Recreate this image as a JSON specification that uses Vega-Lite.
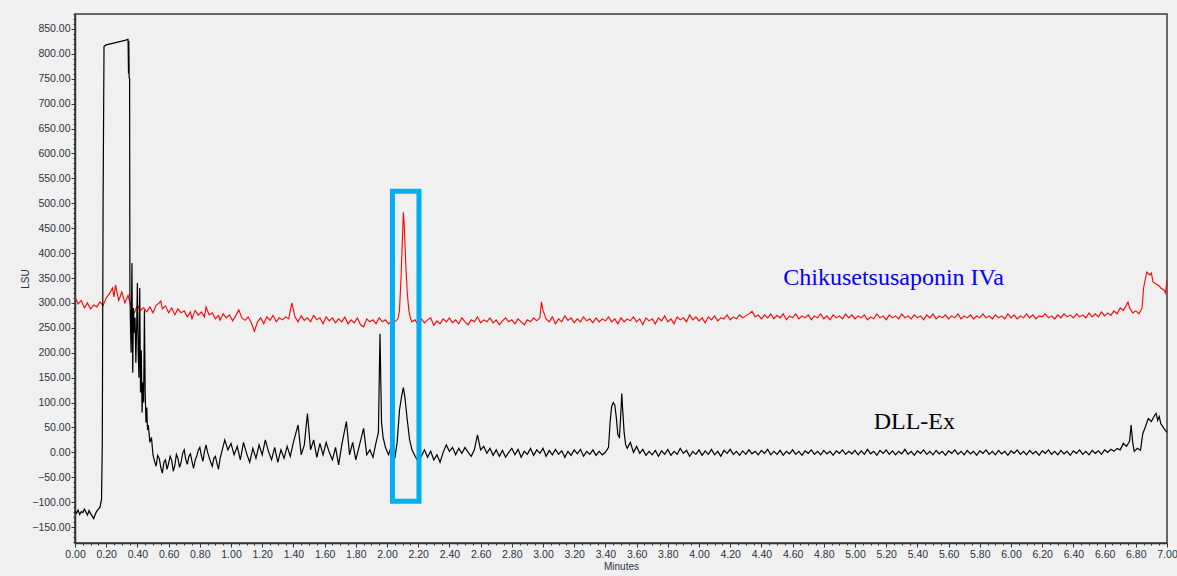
{
  "$schema": "https://vega.github.io/schema/vega-lite/v6.json",
  "width": 1092,
  "height": 529,
  "autosize": {"type": "none"},
  "padding": {"left": 75, "top": 14, "right": 10, "bottom": 33},
  "background": "#f0f0f0",
  "config": {
    "view": {"stroke": "#3a3a3a", "strokeWidth": 1.5, "fill": "#f0f0f0"},
    "axis": {"labelFont": "Liberation Sans", "labelFontSize": 10.5, "labelColor": "#2a3340", "titleFont": "Liberation Sans", "titleFontSize": 10, "titleFontWeight": "normal", "titleColor": "#2a3340", "domainColor": "#333333", "domainWidth": 1.5, "tickColor": "#333333", "grid": false, "labelOverlap": false, "labelFlush": false}
  },
  "datasets": {
    "red": [
      {"t":0.00,"v":312},{"t":0.02,"v":298},{"t":0.04,"v":305},{"t":0.06,"v":290},{"t":0.08,"v":300},{"t":0.10,"v":288},{"t":0.12,"v":296},{"t":0.14,"v":292},{"t":0.16,"v":302},{"t":0.18,"v":295},
      {"t":0.20,"v":310},{"t":0.22,"v":318},{"t":0.24,"v":330},{"t":0.25,"v":312},{"t":0.26,"v":336},{"t":0.28,"v":305},{"t":0.30,"v":322},{"t":0.32,"v":300},{"t":0.34,"v":315},{"t":0.36,"v":292},
      {"t":0.38,"v":280},{"t":0.40,"v":295},{"t":0.42,"v":285},{"t":0.44,"v":290},{"t":0.46,"v":282},{"t":0.48,"v":292},{"t":0.50,"v":280},{"t":0.52,"v":295},{"t":0.54,"v":300},{"t":0.55,"v":304},
      {"t":0.56,"v":288},{"t":0.58,"v":294},{"t":0.60,"v":280},{"t":0.62,"v":290},{"t":0.64,"v":276},{"t":0.66,"v":288},{"t":0.68,"v":280},{"t":0.70,"v":284},{"t":0.72,"v":272},{"t":0.74,"v":282},
      {"t":0.75,"v":268},{"t":0.77,"v":285},{"t":0.79,"v":275},{"t":0.81,"v":282},{"t":0.83,"v":272},{"t":0.84,"v":292},{"t":0.86,"v":276},{"t":0.88,"v":280},{"t":0.90,"v":268},{"t":0.92,"v":275},
      {"t":0.93,"v":265},{"t":0.95,"v":278},{"t":0.97,"v":270},{"t":0.99,"v":276},{"t":1.01,"v":264},{"t":1.03,"v":274},{"t":1.05,"v":286},{"t":1.07,"v":270},{"t":1.09,"v":265},{"t":1.11,"v":272},
      {"t":1.13,"v":260},{"t":1.15,"v":243},{"t":1.17,"v":262},{"t":1.19,"v":270},{"t":1.21,"v":258},{"t":1.23,"v":272},{"t":1.25,"v":265},{"t":1.27,"v":275},{"t":1.29,"v":262},{"t":1.31,"v":270},
      {"t":1.33,"v":266},{"t":1.35,"v":272},{"t":1.37,"v":268},{"t":1.39,"v":300},{"t":1.41,"v":272},{"t":1.43,"v":262},{"t":1.45,"v":274},{"t":1.47,"v":265},{"t":1.49,"v":270},{"t":1.51,"v":262},
      {"t":1.53,"v":275},{"t":1.55,"v":266},{"t":1.57,"v":270},{"t":1.59,"v":258},{"t":1.61,"v":272},{"t":1.63,"v":264},{"t":1.65,"v":270},{"t":1.67,"v":260},{"t":1.69,"v":268},{"t":1.71,"v":262},
      {"t":1.73,"v":272},{"t":1.75,"v":258},{"t":1.77,"v":266},{"t":1.79,"v":260},{"t":1.81,"v":270},{"t":1.83,"v":256},{"t":1.85,"v":252},{"t":1.87,"v":268},{"t":1.89,"v":262},{"t":1.91,"v":266},
      {"t":1.93,"v":258},{"t":1.95,"v":270},{"t":1.97,"v":262},{"t":1.99,"v":266},{"t":2.01,"v":258},{"t":2.03,"v":264},{"t":2.05,"v":262},{"t":2.07,"v":268},{"t":2.08,"v":285},{"t":2.09,"v":350},
      {"t":2.10,"v":440},{"t":2.105,"v":482},{"t":2.11,"v":460},{"t":2.12,"v":380},{"t":2.13,"v":320},{"t":2.14,"v":285},{"t":2.15,"v":270},{"t":2.16,"v":262},{"t":2.18,"v":266},{"t":2.20,"v":256},
      {"t":2.22,"v":268},{"t":2.24,"v":260},{"t":2.26,"v":266},{"t":2.28,"v":270},{"t":2.30,"v":255},{"t":2.32,"v":264},{"t":2.34,"v":258},{"t":2.36,"v":268},{"t":2.38,"v":262},{"t":2.40,"v":270},
      {"t":2.42,"v":260},{"t":2.44,"v":266},{"t":2.46,"v":258},{"t":2.48,"v":270},{"t":2.50,"v":262},{"t":2.52,"v":256},{"t":2.54,"v":266},{"t":2.56,"v":262},{"t":2.58,"v":272},{"t":2.60,"v":260},
      {"t":2.62,"v":266},{"t":2.64,"v":262},{"t":2.66,"v":270},{"t":2.68,"v":260},{"t":2.70,"v":266},{"t":2.72,"v":256},{"t":2.74,"v":264},{"t":2.76,"v":270},{"t":2.78,"v":262},{"t":2.80,"v":266},
      {"t":2.82,"v":258},{"t":2.84,"v":268},{"t":2.86,"v":262},{"t":2.88,"v":256},{"t":2.90,"v":266},{"t":2.92,"v":262},{"t":2.94,"v":270},{"t":2.96,"v":264},{"t":2.98,"v":270},{"t":2.99,"v":302},
      {"t":3.00,"v":285},{"t":3.02,"v":268},{"t":3.04,"v":262},{"t":3.06,"v":272},{"t":3.08,"v":258},{"t":3.10,"v":268},{"t":3.12,"v":262},{"t":3.14,"v":274},{"t":3.16,"v":265},{"t":3.18,"v":270},
      {"t":3.20,"v":260},{"t":3.22,"v":268},{"t":3.24,"v":262},{"t":3.26,"v":272},{"t":3.28,"v":264},{"t":3.30,"v":268},{"t":3.32,"v":260},{"t":3.34,"v":270},{"t":3.36,"v":262},{"t":3.38,"v":268},
      {"t":3.40,"v":264},{"t":3.42,"v":272},{"t":3.44,"v":262},{"t":3.46,"v":268},{"t":3.48,"v":258},{"t":3.50,"v":270},{"t":3.52,"v":262},{"t":3.54,"v":268},{"t":3.56,"v":264},{"t":3.58,"v":272},
      {"t":3.60,"v":262},{"t":3.62,"v":268},{"t":3.64,"v":256},{"t":3.66,"v":270},{"t":3.68,"v":264},{"t":3.70,"v":268},{"t":3.72,"v":258},{"t":3.74,"v":270},{"t":3.76,"v":264},{"t":3.78,"v":274},
      {"t":3.80,"v":262},{"t":3.82,"v":268},{"t":3.84,"v":258},{"t":3.86,"v":272},{"t":3.88,"v":266},{"t":3.90,"v":270},{"t":3.92,"v":262},{"t":3.94,"v":276},{"t":3.96,"v":266},{"t":3.98,"v":272},
      {"t":4.00,"v":264},{"t":4.02,"v":270},{"t":4.04,"v":260},{"t":4.06,"v":272},{"t":4.08,"v":266},{"t":4.10,"v":274},{"t":4.12,"v":264},{"t":4.14,"v":270},{"t":4.16,"v":268},{"t":4.18,"v":276},
      {"t":4.20,"v":266},{"t":4.22,"v":272},{"t":4.24,"v":268},{"t":4.26,"v":276},{"t":4.28,"v":270},{"t":4.30,"v":274},{"t":4.32,"v":278},{"t":4.34,"v":283},{"t":4.36,"v":272},{"t":4.38,"v":276},
      {"t":4.40,"v":268},{"t":4.42,"v":276},{"t":4.44,"v":270},{"t":4.46,"v":278},{"t":4.48,"v":268},{"t":4.50,"v":275},{"t":4.52,"v":270},{"t":4.54,"v":278},{"t":4.56,"v":266},{"t":4.58,"v":274},
      {"t":4.60,"v":270},{"t":4.62,"v":278},{"t":4.64,"v":268},{"t":4.66,"v":274},{"t":4.68,"v":270},{"t":4.70,"v":276},{"t":4.72,"v":266},{"t":4.74,"v":274},{"t":4.76,"v":270},{"t":4.78,"v":278},
      {"t":4.80,"v":268},{"t":4.82,"v":274},{"t":4.84,"v":266},{"t":4.86,"v":276},{"t":4.88,"v":270},{"t":4.90,"v":274},{"t":4.92,"v":268},{"t":4.94,"v":278},{"t":4.96,"v":270},{"t":4.98,"v":276},
      {"t":5.00,"v":268},{"t":5.02,"v":274},{"t":5.04,"v":270},{"t":5.06,"v":276},{"t":5.08,"v":266},{"t":5.10,"v":272},{"t":5.12,"v":268},{"t":5.14,"v":278},{"t":5.16,"v":270},{"t":5.18,"v":274},
      {"t":5.20,"v":266},{"t":5.22,"v":276},{"t":5.24,"v":270},{"t":5.26,"v":274},{"t":5.28,"v":268},{"t":5.30,"v":278},{"t":5.32,"v":270},{"t":5.34,"v":274},{"t":5.36,"v":268},{"t":5.38,"v":276},
      {"t":5.40,"v":270},{"t":5.42,"v":274},{"t":5.44,"v":266},{"t":5.46,"v":276},{"t":5.48,"v":270},{"t":5.50,"v":278},{"t":5.52,"v":268},{"t":5.54,"v":274},{"t":5.56,"v":270},{"t":5.58,"v":276},
      {"t":5.60,"v":268},{"t":5.62,"v":274},{"t":5.64,"v":270},{"t":5.66,"v":278},{"t":5.68,"v":268},{"t":5.70,"v":274},{"t":5.72,"v":270},{"t":5.74,"v":276},{"t":5.76,"v":268},{"t":5.78,"v":274},
      {"t":5.80,"v":270},{"t":5.82,"v":278},{"t":5.84,"v":270},{"t":5.86,"v":274},{"t":5.88,"v":268},{"t":5.90,"v":276},{"t":5.92,"v":270},{"t":5.94,"v":274},{"t":5.96,"v":268},{"t":5.98,"v":278},
      {"t":6.00,"v":270},{"t":6.02,"v":276},{"t":6.04,"v":268},{"t":6.06,"v":274},{"t":6.08,"v":270},{"t":6.10,"v":278},{"t":6.12,"v":270},{"t":6.14,"v":276},{"t":6.16,"v":268},{"t":6.18,"v":274},
      {"t":6.20,"v":272},{"t":6.22,"v":278},{"t":6.24,"v":270},{"t":6.26,"v":274},{"t":6.28,"v":268},{"t":6.30,"v":276},{"t":6.32,"v":270},{"t":6.34,"v":278},{"t":6.36,"v":272},{"t":6.38,"v":276},
      {"t":6.40,"v":270},{"t":6.42,"v":278},{"t":6.44,"v":272},{"t":6.46,"v":276},{"t":6.48,"v":270},{"t":6.50,"v":280},{"t":6.52,"v":272},{"t":6.54,"v":278},{"t":6.56,"v":272},{"t":6.58,"v":282},
      {"t":6.60,"v":274},{"t":6.62,"v":280},{"t":6.64,"v":275},{"t":6.66,"v":284},{"t":6.68,"v":278},{"t":6.70,"v":290},{"t":6.72,"v":285},{"t":6.74,"v":296},{"t":6.75,"v":302},{"t":6.76,"v":290},
      {"t":6.78,"v":280},{"t":6.80,"v":284},{"t":6.82,"v":278},{"t":6.84,"v":290},{"t":6.85,"v":330},{"t":6.87,"v":362},{"t":6.89,"v":356},{"t":6.90,"v":360},{"t":6.91,"v":342},{"t":6.93,"v":338},
      {"t":6.95,"v":334},{"t":6.96,"v":330},{"t":6.98,"v":326},{"t":6.99,"v":320},{"t":7.00,"v":345}
    ],
    "black": [
      {"t":0.00,"v":-118},{"t":0.01,"v":-122},{"t":0.02,"v":-116},{"t":0.03,"v":-125},{"t":0.04,"v":-119},{"t":0.05,"v":-121},{"t":0.06,"v":-114},{"t":0.07,"v":-120},{"t":0.08,"v":-126},{"t":0.09,"v":-117},
      {"t":0.10,"v":-123},{"t":0.11,"v":-128},{"t":0.12,"v":-133},{"t":0.13,"v":-124},{"t":0.14,"v":-118},{"t":0.15,"v":-114},{"t":0.16,"v":-110},{"t":0.17,"v":-95},{"t":0.175,"v":20},{"t":0.18,"v":500},
      {"t":0.186,"v":815},{"t":0.20,"v":818},{"t":0.24,"v":821},{"t":0.28,"v":824},{"t":0.32,"v":827},{"t":0.34,"v":829},{"t":0.343,"v":760},{"t":0.345,"v":826},{"t":0.347,"v":752},{"t":0.350,"v":750},
      {"t":0.352,"v":320},{"t":0.356,"v":250},{"t":0.36,"v":200},{"t":0.365,"v":380},{"t":0.37,"v":160},{"t":0.375,"v":290},{"t":0.38,"v":240},{"t":0.385,"v":270},{"t":0.39,"v":180},{"t":0.395,"v":250},
      {"t":0.40,"v":340},{"t":0.405,"v":200},{"t":0.41,"v":150},{"t":0.415,"v":330},{"t":0.42,"v":120},{"t":0.425,"v":205},{"t":0.43,"v":80},{"t":0.435,"v":140},{"t":0.44,"v":100},{"t":0.445,"v":285},
      {"t":0.45,"v":120},{"t":0.455,"v":60},{"t":0.46,"v":90},{"t":0.465,"v":45},{"t":0.47,"v":55},{"t":0.48,"v":20},{"t":0.49,"v":30},{"t":0.50,"v":-5},{"t":0.51,"v":-18},{"t":0.52,"v":-28},{"t":0.53,"v":-6},{"t":0.54,"v":-12},
      {"t":0.55,"v":-30},{"t":0.56,"v":-42},{"t":0.57,"v":-20},{"t":0.58,"v":-15},{"t":0.59,"v":-34},{"t":0.60,"v":-22},{"t":0.61,"v":-8},{"t":0.62,"v":-16},{"t":0.63,"v":-38},{"t":0.64,"v":-26},{"t":0.65,"v":-4},{"t":0.66,"v":-12},{"t":0.67,"v":-30},{"t":0.68,"v":-20},{"t":0.69,"v":-2},{"t":0.70,"v":5},{"t":0.71,"v":-14},{"t":0.72,"v":-24},{"t":0.73,"v":-8},{"t":0.74,"v":-3},
      {"t":0.75,"v":-18},{"t":0.76,"v":-32},{"t":0.77,"v":-16},{"t":0.78,"v":-8},{"t":0.79,"v":4},{"t":0.80,"v":10},{"t":0.81,"v":-6},{"t":0.82,"v":-18},{"t":0.83,"v":2},{"t":0.84,"v":15},{"t":0.85,"v":0},{"t":0.86,"v":-10},{"t":0.87,"v":-20},{"t":0.88,"v":-28},{"t":0.89,"v":-12},{"t":0.90,"v":-8},{"t":0.91,"v":-22},{"t":0.92,"v":-34},{"t":0.93,"v":-12},{"t":0.94,"v":0},
      {"t":0.96,"v":25},{"t":0.98,"v":5},{"t":1.00,"v":18},{"t":1.02,"v":-5},{"t":1.04,"v":12},{"t":1.06,"v":-15},{"t":1.08,"v":20},{"t":1.10,"v":-2},{"t":1.12,"v":-20},{"t":1.14,"v":8},
      {"t":1.16,"v":-12},{"t":1.18,"v":15},{"t":1.20,"v":-5},{"t":1.22,"v":25},{"t":1.24,"v":2},{"t":1.26,"v":-15},{"t":1.28,"v":10},{"t":1.30,"v":-20},{"t":1.32,"v":5},{"t":1.34,"v":-12},
      {"t":1.36,"v":12},{"t":1.38,"v":-8},{"t":1.40,"v":20},{"t":1.43,"v":55},{"t":1.45,"v":-5},{"t":1.47,"v":15},{"t":1.49,"v":78},{"t":1.51,"v":5},{"t":1.53,"v":25},{"t":1.55,"v":-10},
      {"t":1.57,"v":18},{"t":1.59,"v":-5},{"t":1.61,"v":20},{"t":1.63,"v":0},{"t":1.65,"v":-15},{"t":1.67,"v":10},{"t":1.69,"v":-25},{"t":1.71,"v":15},{"t":1.74,"v":62},{"t":1.76,"v":-5},
      {"t":1.78,"v":20},{"t":1.80,"v":-15},{"t":1.82,"v":10},{"t":1.85,"v":48},{"t":1.87,"v":-5},{"t":1.89,"v":5},{"t":1.91,"v":-10},{"t":1.93,"v":20},{"t":1.945,"v":40},{"t":1.955,"v":238},
      {"t":1.965,"v":60},{"t":1.975,"v":30},{"t":1.99,"v":10},{"t":2.01,"v":-5},{"t":2.03,"v":15},{"t":2.05,"v":-12},{"t":2.065,"v":20},{"t":2.08,"v":85},{"t":2.095,"v":115},{"t":2.105,"v":130},
      {"t":2.115,"v":110},{"t":2.13,"v":65},{"t":2.145,"v":25},{"t":2.16,"v":5},{"t":2.18,"v":-8},{"t":2.20,"v":-18},{"t":2.22,"v":-8},{"t":2.24,"v":5},{"t":2.26,"v":-10},{"t":2.28,"v":2},
      {"t":2.30,"v":-15},{"t":2.32,"v":-5},{"t":2.34,"v":-20},{"t":2.36,"v":0},{"t":2.38,"v":15},{"t":2.40,"v":2},{"t":2.42,"v":10},{"t":2.44,"v":-5},{"t":2.46,"v":8},{"t":2.48,"v":-2},
      {"t":2.50,"v":10},{"t":2.52,"v":0},{"t":2.54,"v":-8},{"t":2.56,"v":5},{"t":2.58,"v":35},{"t":2.60,"v":5},{"t":2.62,"v":12},{"t":2.64,"v":-2},{"t":2.66,"v":8},{"t":2.68,"v":-6},
      {"t":2.70,"v":5},{"t":2.72,"v":-8},{"t":2.74,"v":4},{"t":2.76,"v":-10},{"t":2.78,"v":0},{"t":2.80,"v":8},{"t":2.82,"v":-5},{"t":2.84,"v":6},{"t":2.86,"v":-10},{"t":2.88,"v":2},
      {"t":2.90,"v":-4},{"t":2.92,"v":8},{"t":2.94,"v":-6},{"t":2.96,"v":5},{"t":2.98,"v":-2},{"t":3.00,"v":8},{"t":3.02,"v":-8},{"t":3.04,"v":4},{"t":3.06,"v":-5},{"t":3.08,"v":6},
      {"t":3.10,"v":-4},{"t":3.12,"v":3},{"t":3.14,"v":-10},{"t":3.16,"v":2},{"t":3.18,"v":-6},{"t":3.20,"v":5},{"t":3.22,"v":-3},{"t":3.24,"v":6},{"t":3.26,"v":-8},{"t":3.28,"v":2},
      {"t":3.30,"v":-4},{"t":3.32,"v":5},{"t":3.34,"v":-6},{"t":3.36,"v":2},{"t":3.38,"v":-5},{"t":3.40,"v":0},{"t":3.42,"v":10},{"t":3.43,"v":60},{"t":3.44,"v":92},{"t":3.45,"v":100},
      {"t":3.46,"v":95},{"t":3.47,"v":70},{"t":3.48,"v":35},{"t":3.49,"v":30},{"t":3.50,"v":85},{"t":3.505,"v":118},{"t":3.51,"v":90},{"t":3.52,"v":40},{"t":3.53,"v":15},{"t":3.54,"v":8},
      {"t":3.56,"v":20},{"t":3.58,"v":0},{"t":3.60,"v":12},{"t":3.62,"v":-2},{"t":3.64,"v":6},{"t":3.66,"v":-6},{"t":3.68,"v":2},{"t":3.70,"v":-5},{"t":3.72,"v":4},{"t":3.74,"v":-8},
      {"t":3.76,"v":3},{"t":3.78,"v":-4},{"t":3.80,"v":6},{"t":3.82,"v":-6},{"t":3.84,"v":2},{"t":3.86,"v":-4},{"t":3.88,"v":8},{"t":3.90,"v":-2},{"t":3.92,"v":4},{"t":3.94,"v":-8},
      {"t":3.96,"v":2},{"t":3.98,"v":-4},{"t":4.00,"v":5},{"t":4.02,"v":-6},{"t":4.04,"v":3},{"t":4.06,"v":-4},{"t":4.08,"v":6},{"t":4.10,"v":-5},{"t":4.12,"v":2},{"t":4.14,"v":-8},
      {"t":4.16,"v":4},{"t":4.18,"v":-2},{"t":4.20,"v":6},{"t":4.22,"v":-4},{"t":4.24,"v":2},{"t":4.26,"v":-6},{"t":4.28,"v":3},{"t":4.30,"v":-4},{"t":4.32,"v":5},{"t":4.34,"v":-3},
      {"t":4.36,"v":2},{"t":4.38,"v":-5},{"t":4.40,"v":4},{"t":4.42,"v":-2},{"t":4.44,"v":6},{"t":4.46,"v":-5},{"t":4.48,"v":2},{"t":4.50,"v":-4},{"t":4.52,"v":4},{"t":4.54,"v":-6},
      {"t":4.56,"v":2},{"t":4.58,"v":-3},{"t":4.60,"v":5},{"t":4.62,"v":-4},{"t":4.64,"v":2},{"t":4.66,"v":-6},{"t":4.68,"v":3},{"t":4.70,"v":-2},{"t":4.72,"v":5},{"t":4.74,"v":-4},
      {"t":4.76,"v":2},{"t":4.78,"v":-5},{"t":4.80,"v":4},{"t":4.82,"v":-3},{"t":4.84,"v":2},{"t":4.86,"v":-6},{"t":4.88,"v":3},{"t":4.90,"v":-2},{"t":4.92,"v":5},{"t":4.94,"v":-4},
      {"t":4.96,"v":2},{"t":4.98,"v":-3},{"t":5.00,"v":4},{"t":5.02,"v":-5},{"t":5.04,"v":3},{"t":5.06,"v":-4},{"t":5.08,"v":6},{"t":5.10,"v":-3},{"t":5.12,"v":2},{"t":5.14,"v":-6},
      {"t":5.16,"v":4},{"t":5.18,"v":-2},{"t":5.20,"v":5},{"t":5.22,"v":-4},{"t":5.24,"v":3},{"t":5.26,"v":-5},{"t":5.28,"v":2},{"t":5.30,"v":-3},{"t":5.32,"v":6},{"t":5.34,"v":-4},
      {"t":5.36,"v":2},{"t":5.38,"v":-6},{"t":5.40,"v":3},{"t":5.42,"v":-2},{"t":5.44,"v":5},{"t":5.46,"v":-4},{"t":5.48,"v":2},{"t":5.50,"v":-5},{"t":5.52,"v":4},{"t":5.54,"v":-3},
      {"t":5.56,"v":2},{"t":5.58,"v":-6},{"t":5.60,"v":3},{"t":5.62,"v":-2},{"t":5.64,"v":5},{"t":5.66,"v":-4},{"t":5.68,"v":2},{"t":5.70,"v":-5},{"t":5.72,"v":4},{"t":5.74,"v":-3},
      {"t":5.76,"v":2},{"t":5.78,"v":-6},{"t":5.80,"v":3},{"t":5.82,"v":-2},{"t":5.84,"v":5},{"t":5.86,"v":-4},{"t":5.88,"v":2},{"t":5.90,"v":-5},{"t":5.92,"v":4},{"t":5.94,"v":-3},
      {"t":5.96,"v":2},{"t":5.98,"v":-6},{"t":6.00,"v":3},{"t":6.02,"v":-2},{"t":6.04,"v":5},{"t":6.06,"v":-4},{"t":6.08,"v":2},{"t":6.10,"v":-5},{"t":6.12,"v":4},{"t":6.14,"v":-3},
      {"t":6.16,"v":2},{"t":6.18,"v":-6},{"t":6.20,"v":3},{"t":6.22,"v":-2},{"t":6.24,"v":5},{"t":6.26,"v":-4},{"t":6.28,"v":2},{"t":6.30,"v":-5},{"t":6.32,"v":4},{"t":6.34,"v":-3},
      {"t":6.36,"v":2},{"t":6.38,"v":-6},{"t":6.40,"v":3},{"t":6.42,"v":-2},{"t":6.44,"v":5},{"t":6.46,"v":-4},{"t":6.48,"v":2},{"t":6.50,"v":-5},{"t":6.52,"v":4},{"t":6.54,"v":-2},
      {"t":6.56,"v":3},{"t":6.58,"v":-4},{"t":6.60,"v":5},{"t":6.62,"v":0},{"t":6.64,"v":6},{"t":6.66,"v":2},{"t":6.68,"v":8},{"t":6.70,"v":5},{"t":6.72,"v":18},{"t":6.74,"v":12},
      {"t":6.76,"v":22},{"t":6.77,"v":55},{"t":6.78,"v":20},{"t":6.79,"v":2},{"t":6.81,"v":8},{"t":6.83,"v":4},{"t":6.845,"v":38},{"t":6.86,"v":50},{"t":6.88,"v":68},{"t":6.90,"v":62},
      {"t":6.92,"v":74},{"t":6.93,"v":78},{"t":6.94,"v":64},{"t":6.95,"v":72},{"t":6.96,"v":58},{"t":6.98,"v":48},{"t":7.00,"v":40}
    ]
  },
  "layer": [
    {
      "data": {"name": "red"},
      "mark": {"type": "line", "color": "#ff0000", "strokeWidth": 1.1},
      "encoding": {
        "x": {"field": "t", "type": "quantitative", "scale": {"domain": [0, 7], "nice": false, "zero": false},
          "axis": {"title": "Minutes", "titlePadding": 2, "labelOverlap": false, "labelFlush": false, "labelBound": false, "tickCount": 1000,
            "values": [0,0.05,0.1,0.15,0.2,0.25,0.3,0.35,0.4,0.45,0.5,0.55,0.6,0.65,0.7,0.75,0.8,0.85,0.9,0.95,1,1.05,1.1,1.15,1.2,1.25,1.3,1.35,1.4,1.45,1.5,1.55,1.6,1.65,1.7,1.75,1.8,1.85,1.9,1.95,2,2.05,2.1,2.15,2.2,2.25,2.3,2.35,2.4,2.45,2.5,2.55,2.6,2.65,2.7,2.75,2.8,2.85,2.9,2.95,3,3.05,3.1,3.15,3.2,3.25,3.3,3.35,3.4,3.45,3.5,3.55,3.6,3.65,3.7,3.75,3.8,3.85,3.9,3.95,4,4.05,4.1,4.15,4.2,4.25,4.3,4.35,4.4,4.45,4.5,4.55,4.6,4.65,4.7,4.75,4.8,4.85,4.9,4.95,5,5.05,5.1,5.15,5.2,5.25,5.3,5.35,5.4,5.45,5.5,5.55,5.6,5.65,5.7,5.75,5.8,5.85,5.9,5.95,6,6.05,6.1,6.15,6.2,6.25,6.3,6.35,6.4,6.45,6.5,6.55,6.6,6.65,6.7,6.75,6.8,6.85,6.9,6.95,7],
            "labelExpr": "abs(datum.value*5 - round(datum.value*5)) < 0.001 ? format(datum.value, '.2f') : ''",
            "tickSize": {"condition": {"test": "abs(datum.value*5 - round(datum.value*5)) < 0.001", "value": 4}, "value": 2},
            "labelPadding": 2}},
        "y": {"field": "v", "type": "quantitative", "scale": {"domain": [-182, 880], "nice": false, "zero": false},
          "axis": {"title": "LSU", "titlePadding": 1, "labelOverlap": false, "labelFlush": false, "labelBound": false, "tickCount": 1000,
            "values": [-180,-170,-160,-150,-140,-130,-120,-110,-100,-90,-80,-70,-60,-50,-40,-30,-20,-10,0,10,20,30,40,50,60,70,80,90,100,110,120,130,140,150,160,170,180,190,200,210,220,230,240,250,260,270,280,290,300,310,320,330,340,350,360,370,380,390,400,410,420,430,440,450,460,470,480,490,500,510,520,530,540,550,560,570,580,590,600,610,620,630,640,650,660,670,680,690,700,710,720,730,740,750,760,770,780,790,800,810,820,830,840,850,860,870,880],
            "labelExpr": "(datum.value % 50 == 0 && datum.value >= -150 && datum.value <= 850) ? format(datum.value, '.2f') : ''",
            "tickSize": {"condition": {"test": "datum.value % 50 == 0", "value": 4}, "value": 2},
            "labelPadding": 1}}
      }
    },
    {
      "data": {"name": "black"},
      "mark": {"type": "line", "color": "#000000", "strokeWidth": 1.2},
      "encoding": {
        "x": {"field": "t", "type": "quantitative"},
        "y": {"field": "v", "type": "quantitative"}
      }
    },
    {
      "data": {"values": [{"t1": 2.035, "t2": 2.205, "v1": 524, "v2": -98}]},
      "mark": {"type": "rect", "fill": null, "fillOpacity": 0, "stroke": "#00b0f0", "strokeWidth": 5},
      "encoding": {
        "x": {"field": "t1", "type": "quantitative"},
        "x2": {"field": "t2"},
        "y": {"field": "v1", "type": "quantitative"},
        "y2": {"field": "v2"}
      }
    },
    {
      "data": {"values": [
        {"t": 4.54, "v": 350, "label": "Chikusetsusaponin IVa", "c": "Chikusetsusaponin IVa"},
        {"t": 5.12, "v": 60, "label": "DLL-Ex", "c": "DLL-Ex"}
      ]},
      "mark": {"type": "text", "font": "Liberation Serif", "fontSize": 24, "align": "left", "baseline": "middle"},
      "encoding": {
        "x": {"field": "t", "type": "quantitative"},
        "y": {"field": "v", "type": "quantitative"},
        "text": {"field": "label"},
        "color": {"field": "c", "type": "nominal", "scale": {"domain": ["Chikusetsusaponin IVa", "DLL-Ex"], "range": ["#0000ff", "#000000"]}, "legend": null}
      }
    }
  ]
}
